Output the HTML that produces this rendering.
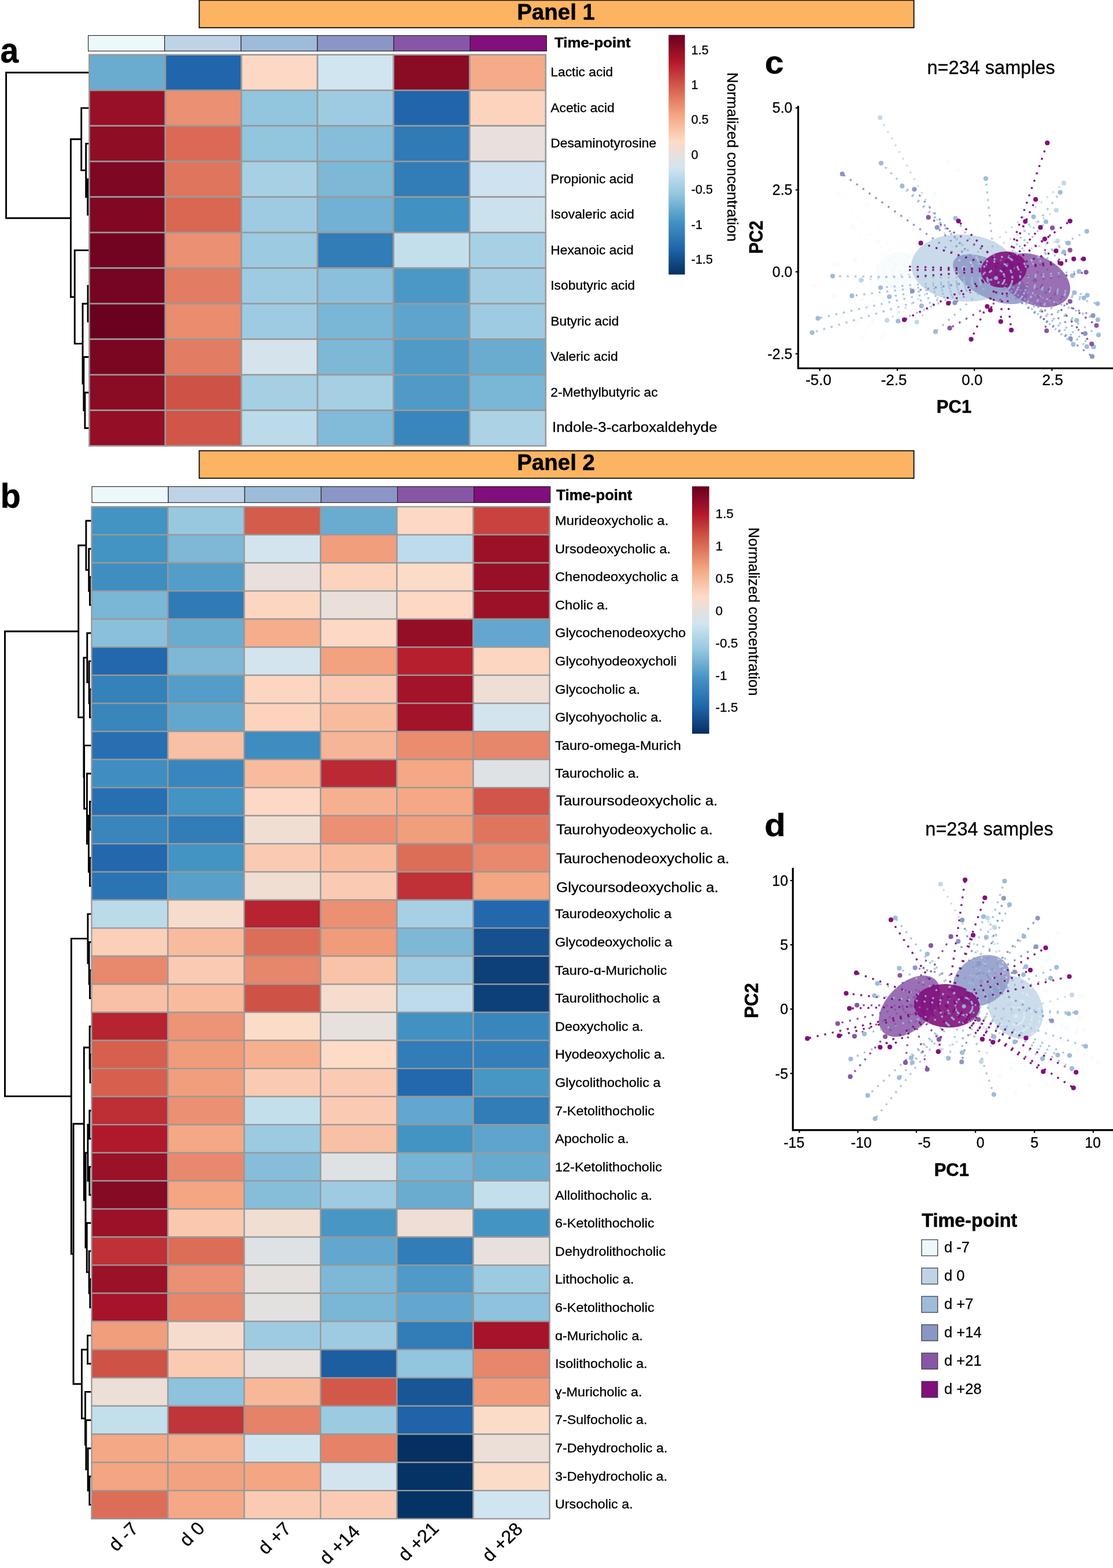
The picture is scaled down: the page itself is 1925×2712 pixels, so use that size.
<!DOCTYPE html>
<html lang="en"><head><meta charset="utf-8"><title>Figure</title>
<style>html,body{margin:0;padding:0;background:#fff}body{width:1925px;height:2712px;overflow:hidden}svg{display:block}text{stroke:#000;stroke-width:.3px;stroke-linejoin:round}text[font-weight=bold]{stroke-width:.5px}</style>
</head><body>
<svg width="1925" height="2712" viewBox="0 0 1925 2712" font-family='"Liberation Sans", sans-serif' fill="#000" role="img" aria-label="Figure: heatmaps and PCA plots">
<rect width="1925" height="2712" fill="#fff"/>
<rect x="344.6" y="0.4" width="1236.0" height="47.5" fill="#FDB462" stroke="#1a1a1a" stroke-width="2"/>
<text transform="translate(961.60 33.60)" font-size="38.50" font-weight="bold" text-anchor="middle">Panel 1</text>
<text transform="translate(0.50 108.00) scale(0.9300 1.0000)" font-size="61.00" font-weight="bold">a</text>
<rect x="152.60" y="61.40" width="132.13" height="26.90" fill="#EDF8FB" stroke="#1f1f1f" stroke-width="1.1"/>
<rect x="284.73" y="61.40" width="132.13" height="26.90" fill="#BFD3E6" stroke="#1f1f1f" stroke-width="1.1"/>
<rect x="416.87" y="61.40" width="132.13" height="26.90" fill="#9EBCDA" stroke="#1f1f1f" stroke-width="1.1"/>
<rect x="549.00" y="61.40" width="132.13" height="26.90" fill="#8C96C6" stroke="#1f1f1f" stroke-width="1.1"/>
<rect x="681.13" y="61.40" width="132.13" height="26.90" fill="#8856A7" stroke="#1f1f1f" stroke-width="1.1"/>
<rect x="813.27" y="61.40" width="132.13" height="26.90" fill="#810F7C" stroke="#1f1f1f" stroke-width="1.1"/>
<text transform="translate(959.00 82.00) scale(1.0550 1.0000)" font-size="24.50" font-weight="bold">Time-point</text>
<path d="M154.4 309.9H151.6V371.4H154.4M154.4 248.4H148.7V340.7H151.6M154.4 186.9H140.7V294.6H148.7M154.4 494.4H152.0V556.0H154.4M154.4 679.0H146.9V740.5H154.4M154.4 617.5H144.8V709.7H146.9M152.0 525.2H143.0V663.6H144.8M154.4 432.9H129.2V594.4H143.0M140.7 240.8H122.4V513.7H129.2M154.4 125.5H10.6V377.2H122.4" fill="none" stroke="#000" stroke-width="2.9" stroke-linejoin="miter" stroke-linecap="square"/>
<g stroke="#999999" stroke-width="2.6">
<rect x="154.40" y="94.70" width="131.57" height="61.50" fill="#6AACD0"/>
<rect x="285.97" y="94.70" width="131.57" height="61.50" fill="#2166AC"/>
<rect x="417.53" y="94.70" width="131.57" height="61.50" fill="#FDD8C4"/>
<rect x="549.10" y="94.70" width="131.57" height="61.50" fill="#D1E5F0"/>
<rect x="680.67" y="94.70" width="131.57" height="61.50" fill="#890B24"/>
<rect x="812.23" y="94.70" width="131.57" height="61.50" fill="#F5AA89"/>
<rect x="154.40" y="156.20" width="131.57" height="61.50" fill="#981027"/>
<rect x="285.97" y="156.20" width="131.57" height="61.50" fill="#EB9072"/>
<rect x="417.53" y="156.20" width="131.57" height="61.50" fill="#92C5DE"/>
<rect x="549.10" y="156.20" width="131.57" height="61.50" fill="#9FCBE2"/>
<rect x="680.67" y="156.20" width="131.57" height="61.50" fill="#2166AC"/>
<rect x="812.23" y="156.20" width="131.57" height="61.50" fill="#FCD3BD"/>
<rect x="154.40" y="217.70" width="131.57" height="61.50" fill="#900D26"/>
<rect x="285.97" y="217.70" width="131.57" height="61.50" fill="#DA6A55"/>
<rect x="417.53" y="217.70" width="131.57" height="61.50" fill="#92C5DE"/>
<rect x="549.10" y="217.70" width="131.57" height="61.50" fill="#86BEDA"/>
<rect x="680.67" y="217.70" width="131.57" height="61.50" fill="#307AB6"/>
<rect x="812.23" y="217.70" width="131.57" height="61.50" fill="#E7E0DC"/>
<rect x="154.40" y="279.20" width="131.57" height="61.50" fill="#7E0723"/>
<rect x="285.97" y="279.20" width="131.57" height="61.50" fill="#DF755D"/>
<rect x="417.53" y="279.20" width="131.57" height="61.50" fill="#A8D0E4"/>
<rect x="549.10" y="279.20" width="131.57" height="61.50" fill="#7EB8D7"/>
<rect x="680.67" y="279.20" width="131.57" height="61.50" fill="#327CB8"/>
<rect x="812.23" y="279.20" width="131.57" height="61.50" fill="#CEE3EF"/>
<rect x="154.40" y="340.70" width="131.57" height="61.50" fill="#810823"/>
<rect x="285.97" y="340.70" width="131.57" height="61.50" fill="#D96752"/>
<rect x="417.53" y="340.70" width="131.57" height="61.50" fill="#9FCBE2"/>
<rect x="549.10" y="340.70" width="131.57" height="61.50" fill="#72B1D3"/>
<rect x="680.67" y="340.70" width="131.57" height="61.50" fill="#4191C2"/>
<rect x="812.23" y="340.70" width="131.57" height="61.50" fill="#CBE2EE"/>
<rect x="154.40" y="402.20" width="131.57" height="61.50" fill="#720421"/>
<rect x="285.97" y="402.20" width="131.57" height="61.50" fill="#EB9072"/>
<rect x="417.53" y="402.20" width="131.57" height="61.50" fill="#9BCAE1"/>
<rect x="549.10" y="402.20" width="131.57" height="61.50" fill="#327CB8"/>
<rect x="680.67" y="402.20" width="131.57" height="61.50" fill="#C4DFEC"/>
<rect x="812.23" y="402.20" width="131.57" height="61.50" fill="#A8D0E4"/>
<rect x="154.40" y="463.70" width="131.57" height="61.50" fill="#760521"/>
<rect x="285.97" y="463.70" width="131.57" height="61.50" fill="#E27C62"/>
<rect x="417.53" y="463.70" width="131.57" height="61.50" fill="#9FCBE2"/>
<rect x="549.10" y="463.70" width="131.57" height="61.50" fill="#8AC0DB"/>
<rect x="680.67" y="463.70" width="131.57" height="61.50" fill="#4B98C6"/>
<rect x="812.23" y="463.70" width="131.57" height="61.50" fill="#A2CDE2"/>
<rect x="154.40" y="525.20" width="131.57" height="61.50" fill="#69011F"/>
<rect x="285.97" y="525.20" width="131.57" height="61.50" fill="#EA8D6F"/>
<rect x="417.53" y="525.20" width="131.57" height="61.50" fill="#9FCBE2"/>
<rect x="549.10" y="525.20" width="131.57" height="61.50" fill="#7AB6D6"/>
<rect x="680.67" y="525.20" width="131.57" height="61.50" fill="#5FA4CC"/>
<rect x="812.23" y="525.20" width="131.57" height="61.50" fill="#9FCBE2"/>
<rect x="154.40" y="586.70" width="131.57" height="61.50" fill="#7A0622"/>
<rect x="285.97" y="586.70" width="131.57" height="61.50" fill="#E27C62"/>
<rect x="417.53" y="586.70" width="131.57" height="61.50" fill="#D5E4EC"/>
<rect x="549.10" y="586.70" width="131.57" height="61.50" fill="#7EB8D7"/>
<rect x="680.67" y="586.70" width="131.57" height="61.50" fill="#4F9AC7"/>
<rect x="812.23" y="586.70" width="131.57" height="61.50" fill="#6AACD0"/>
<rect x="154.40" y="648.20" width="131.57" height="61.50" fill="#890B24"/>
<rect x="285.97" y="648.20" width="131.57" height="61.50" fill="#CF5246"/>
<rect x="417.53" y="648.20" width="131.57" height="61.50" fill="#A5CFE3"/>
<rect x="549.10" y="648.20" width="131.57" height="61.50" fill="#A5CFE3"/>
<rect x="680.67" y="648.20" width="131.57" height="61.50" fill="#4F9AC7"/>
<rect x="812.23" y="648.20" width="131.57" height="61.50" fill="#7AB6D6"/>
<rect x="154.40" y="709.70" width="131.57" height="61.50" fill="#940E26"/>
<rect x="285.97" y="709.70" width="131.57" height="61.50" fill="#D15548"/>
<rect x="417.53" y="709.70" width="131.57" height="61.50" fill="#BBDAEA"/>
<rect x="549.10" y="709.70" width="131.57" height="61.50" fill="#82BBD9"/>
<rect x="680.67" y="709.70" width="131.57" height="61.50" fill="#3986BC"/>
<rect x="812.23" y="709.70" width="131.57" height="61.50" fill="#ABD2E5"/>
</g>
<text transform="translate(952.20 132.05) scale(1.0450 1.0000)" font-size="21.90">Lactic acid</text>
<text transform="translate(952.20 193.55) scale(1.0450 1.0000)" font-size="21.90">Acetic acid</text>
<text transform="translate(952.20 255.05) scale(1.0450 1.0000)" font-size="21.90">Desaminotyrosine</text>
<text transform="translate(952.20 316.55) scale(1.0450 1.0000)" font-size="21.90">Propionic acid</text>
<text transform="translate(952.20 378.05) scale(1.0450 1.0000)" font-size="21.90">Isovaleric acid</text>
<text transform="translate(952.20 439.55) scale(1.0450 1.0000)" font-size="21.90">Hexanoic acid</text>
<text transform="translate(952.20 501.05) scale(1.0450 1.0000)" font-size="21.90">Isobutyric acid</text>
<text transform="translate(952.20 562.55) scale(1.0450 1.0000)" font-size="21.90">Butyric acid</text>
<text transform="translate(952.20 624.05) scale(1.0450 1.0000)" font-size="21.90">Valeric acid</text>
<text transform="translate(952.20 685.55) scale(1.0450 1.0000)" font-size="21.90">2-Methylbutyric ac</text>
<text transform="translate(955.00 747.00) scale(1.0540 1.0000)" font-size="24.60">Indole-3-carboxaldehyde</text>
<defs><linearGradient id="cbA" x1="0" y1="1" x2="0" y2="0">
<stop offset="0.0000" stop-color="#053061"/>
<stop offset="0.1111" stop-color="#2166AC"/>
<stop offset="0.2222" stop-color="#4393C3"/>
<stop offset="0.3333" stop-color="#92C5DE"/>
<stop offset="0.4444" stop-color="#D1E5F0"/>
<stop offset="0.5556" stop-color="#FDDBC7"/>
<stop offset="0.6667" stop-color="#F4A582"/>
<stop offset="0.7778" stop-color="#D6604D"/>
<stop offset="0.8889" stop-color="#B2182B"/>
<stop offset="1.0000" stop-color="#67001F"/>
</linearGradient></defs>
<rect x="1156.4" y="60.4" width="28.2" height="414.4" fill="url(#cbA)"/>
<text transform="translate(1195.50 93.60) scale(0.9650 1.0000)" font-size="22.50">1.5</text>
<text transform="translate(1195.50 154.00) scale(0.9650 1.0000)" font-size="22.50">1</text>
<text transform="translate(1195.50 214.40) scale(0.9650 1.0000)" font-size="22.50">0.5</text>
<text transform="translate(1195.50 274.80) scale(0.9650 1.0000)" font-size="22.50">0</text>
<text transform="translate(1195.50 335.30) scale(0.9650 1.0000)" font-size="22.50">-0.5</text>
<text transform="translate(1195.50 395.70) scale(0.9650 1.0000)" font-size="22.50">-1</text>
<text transform="translate(1195.50 456.30) scale(0.9650 1.0000)" font-size="22.50">-1.5</text>
<text transform="translate(1257.6 125.3) rotate(90) scale(1 1.0000)" font-size="25.80">Normalized concentration</text>
<text transform="translate(1322.80 127.30) scale(1.0700 1.0000)" font-size="55.00" font-weight="bold">c</text>
<text transform="translate(1603.50 127.50)" font-size="32.50">n=234 samples</text>
<g>
<ellipse cx="1558.0" cy="470.0" rx="42.0" ry="34.0" transform="rotate(0 1558.0 470.0)" fill="#EDF8FB" fill-opacity="0.40"/>
<ellipse cx="1667.0" cy="463.5" rx="91.0" ry="58.0" transform="rotate(4 1667.0 463.5)" fill="#BFD3E6" fill-opacity="0.85"/>
<ellipse cx="1713.0" cy="483.0" rx="71.0" ry="32.0" transform="rotate(27 1713.0 483.0)" fill="#8C96C6" fill-opacity="0.85"/>
<ellipse cx="1790.3" cy="484.7" rx="64.0" ry="42.0" transform="rotate(25 1790.3 484.7)" fill="#8856A7" fill-opacity="0.85"/>
<ellipse cx="1736.2" cy="466.2" rx="40.0" ry="31.0" transform="rotate(-10 1736.2 466.2)" fill="#810F7C" fill-opacity="0.90"/>
<path d="M1558.0 470.0L1450.8 333.4M1558.0 470.0L1499.6 354.5M1558.0 470.0L1473.8 391.4M1558.0 470.0L1444.0 456.9M1558.0 470.0L1406.3 494.7M1558.0 470.0L1443.2 511.4M1558.0 470.0L1639.8 279.8M1558.0 470.0L1655.3 294.9M1558.0 470.0L1615.6 337.4M1558.0 470.0L1492.5 582.8M1558.0 470.0L1526.2 582.8M1558.0 470.0L1564.0 568.1M1558.0 470.0L1508.4 557.0M1558.0 470.0L1482.6 557.0M1558.0 470.0L1518.3 418.0M1558.0 470.0L1478.6 449.8M1558.0 470.0L1502.4 529.2M1558.0 470.0L1454.8 545.1M1558.0 470.0L1550.1 489.5M1558.0 470.0L1526.2 517.3" fill="none" stroke="#EDF8FB" stroke-width="3.3" stroke-dasharray="3.3 10.1" stroke-opacity="0.50"/>
<path d="M1667.0 463.5L1522.3 203.5M1667.0 463.5L1840.0 316.7M1667.0 463.5L1826.9 363.6M1667.0 463.5L1828.9 416.8M1667.0 463.5L1489.3 484.7M1667.0 463.5L1534.2 554.2M1667.0 463.5L1585.8 557.0" fill="none" stroke="#BFD3E6" stroke-width="3.3" stroke-dasharray="3.3 10.1" stroke-opacity="0.80"/>
<path d="M1722.6 481.0L1523.9 282.2M1722.6 481.0L1560.4 321.9M1722.6 481.0L1705.0 308.8M1722.6 481.0L1833.7 332.6M1722.6 481.0L1787.6 375.1M1722.6 481.0L1809.0 383.5M1722.6 481.0L1879.7 400.1M1722.6 481.0L1652.5 377.5M1722.6 481.0L1847.9 420.4M1722.6 481.0L1840.0 435.9M1722.6 481.0L1866.2 469.6M1722.6 481.0L1854.7 476.8M1722.6 481.0L1440.1 477.6M1722.6 481.0L1523.1 497.5M1722.6 481.0L1473.4 511.7M1722.6 481.0L1538.2 513.3M1722.6 481.0L1593.8 529.2M1722.6 481.0L1618.0 573.7M1722.6 481.0L1553.3 555.4M1722.6 481.0L1414.6 550.7M1722.6 481.0L1404.7 575.3M1722.6 481.0L1858.3 506.2M1722.6 481.0L1874.6 515.3M1722.6 481.0L1880.5 510.6M1722.6 481.0L1898.4 525.3M1722.6 481.0L1898.8 553.1M1722.6 481.0L1862.2 554.2M1722.6 481.0L1900.0 579.3M1722.6 481.0L1856.3 595.6M1722.6 481.0L1879.7 599.5M1722.6 481.0L1891.6 599.9" fill="none" stroke="#9EBCDA" stroke-width="3.3" stroke-dasharray="3.3 10.1" stroke-opacity="0.88"/>
<path d="M1713.0 483.0L1456.7 300.9M1713.0 483.0L1581.5 327.5M1713.0 483.0L1620.8 393.4M1713.0 483.0L1577.9 503.4M1713.0 483.0L1651.4 523.7M1713.0 483.0L1890.4 545.9M1713.0 483.0L1876.9 576.9M1713.0 483.0L1851.5 585.6M1713.0 483.0L1888.9 616.6" fill="none" stroke="#8C96C6" stroke-width="3.3" stroke-dasharray="3.3 10.1" stroke-opacity="1.00"/>
<path d="M1790.0 485.0L1820.1 394.2M1790.0 485.0L1605.7 375.9M1790.0 485.0L1850.7 432.7M1790.0 485.0L1878.5 470.8M1790.0 485.0L1642.6 567.4M1790.0 485.0L1810.2 572.1M1790.0 485.0L1850.7 521.3M1790.0 485.0L1896.4 563.0M1790.0 485.0L1888.1 594.8" fill="none" stroke="#8856A7" stroke-width="3.3" stroke-dasharray="3.3 10.1" stroke-opacity="1.00"/>
<path d="M1736.2 466.2L1811.4 247.2M1736.2 466.2L1791.2 344.9M1736.2 466.2L1773.3 383.1M1736.2 466.2L1799.5 393.4M1736.2 466.2L1850.7 382.3M1736.2 466.2L1657.7 382.3M1736.2 466.2L1592.6 420.4M1736.2 466.2L1807.0 413.3M1736.2 466.2L1826.5 433.9M1736.2 466.2L1857.1 447.8M1736.2 466.2L1874.2 447.8M1736.2 466.2L1835.2 455.7M1736.2 466.2L1640.2 524.5M1736.2 466.2L1707.4 530.0M1736.2 466.2L1712.9 536.4M1736.2 466.2L1730.8 556.2M1736.2 466.2L1749.1 570.9M1736.2 466.2L1679.6 586.8M1736.2 466.2L1564.0 553.1M1736.2 466.2L1565.0 461.0M1736.2 466.2L1570.0 467.0M1736.2 466.2L1577.0 479.0" fill="none" stroke="#810F7C" stroke-width="3.3" stroke-dasharray="3.3 10.1" stroke-opacity="1.00"/>
<g fill="#EDF8FB" fill-opacity="0.45"><circle cx="1450.8" cy="333.4" r="4.1"/><circle cx="1499.6" cy="354.5" r="4.1"/><circle cx="1473.8" cy="391.4" r="4.1"/><circle cx="1444.0" cy="456.9" r="4.1"/><circle cx="1406.3" cy="494.7" r="4.1"/><circle cx="1443.2" cy="511.4" r="4.1"/><circle cx="1639.8" cy="279.8" r="4.1"/><circle cx="1655.3" cy="294.9" r="4.1"/><circle cx="1615.6" cy="337.4" r="4.1"/><circle cx="1492.5" cy="582.8" r="4.1"/><circle cx="1526.2" cy="582.8" r="4.1"/><circle cx="1564.0" cy="568.1" r="4.1"/><circle cx="1508.4" cy="557.0" r="4.1"/><circle cx="1482.6" cy="557.0" r="4.1"/><circle cx="1518.3" cy="418.0" r="4.1"/><circle cx="1478.6" cy="449.8" r="4.1"/><circle cx="1502.4" cy="529.2" r="4.1"/><circle cx="1454.8" cy="545.1" r="4.1"/><circle cx="1550.1" cy="489.5" r="4.1"/><circle cx="1526.2" cy="517.3" r="4.1"/></g>
<g fill="#BFD3E6" fill-opacity="0.90"><circle cx="1522.3" cy="203.5" r="4.1"/><circle cx="1840.0" cy="316.7" r="4.1"/><circle cx="1826.9" cy="363.6" r="4.1"/><circle cx="1828.9" cy="416.8" r="4.1"/><circle cx="1489.3" cy="484.7" r="4.1"/><circle cx="1534.2" cy="554.2" r="4.1"/><circle cx="1585.8" cy="557.0" r="4.1"/></g>
<g fill="#9EBCDA" fill-opacity="1.00"><circle cx="1523.9" cy="282.2" r="4.1"/><circle cx="1560.4" cy="321.9" r="4.1"/><circle cx="1705.0" cy="308.8" r="4.1"/><circle cx="1833.7" cy="332.6" r="4.1"/><circle cx="1787.6" cy="375.1" r="4.1"/><circle cx="1809.0" cy="383.5" r="4.1"/><circle cx="1879.7" cy="400.1" r="4.1"/><circle cx="1652.5" cy="377.5" r="4.1"/><circle cx="1847.9" cy="420.4" r="4.1"/><circle cx="1840.0" cy="435.9" r="4.1"/><circle cx="1866.2" cy="469.6" r="4.1"/><circle cx="1854.7" cy="476.8" r="4.1"/><circle cx="1440.1" cy="477.6" r="4.1"/><circle cx="1523.1" cy="497.5" r="4.1"/><circle cx="1473.4" cy="511.7" r="4.1"/><circle cx="1538.2" cy="513.3" r="4.1"/><circle cx="1593.8" cy="529.2" r="4.1"/><circle cx="1618.0" cy="573.7" r="4.1"/><circle cx="1553.3" cy="555.4" r="4.1"/><circle cx="1414.6" cy="550.7" r="4.1"/><circle cx="1404.7" cy="575.3" r="4.1"/><circle cx="1858.3" cy="506.2" r="4.1"/><circle cx="1874.6" cy="515.3" r="4.1"/><circle cx="1880.5" cy="510.6" r="4.1"/><circle cx="1898.4" cy="525.3" r="4.1"/><circle cx="1898.8" cy="553.1" r="4.1"/><circle cx="1862.2" cy="554.2" r="4.1"/><circle cx="1900.0" cy="579.3" r="4.1"/><circle cx="1856.3" cy="595.6" r="4.1"/><circle cx="1879.7" cy="599.5" r="4.1"/><circle cx="1891.6" cy="599.9" r="4.1"/></g>
<g fill="#8C96C6" fill-opacity="1.00"><circle cx="1456.7" cy="300.9" r="4.1"/><circle cx="1581.5" cy="327.5" r="4.1"/><circle cx="1620.8" cy="393.4" r="4.1"/><circle cx="1577.9" cy="503.4" r="4.1"/><circle cx="1651.4" cy="523.7" r="4.1"/><circle cx="1890.4" cy="545.9" r="4.1"/><circle cx="1876.9" cy="576.9" r="4.1"/><circle cx="1851.5" cy="585.6" r="4.1"/><circle cx="1888.9" cy="616.6" r="4.1"/></g>
<g fill="#8856A7" fill-opacity="1.00"><circle cx="1820.1" cy="394.2" r="4.1"/><circle cx="1605.7" cy="375.9" r="4.1"/><circle cx="1850.7" cy="432.7" r="4.1"/><circle cx="1878.5" cy="470.8" r="4.1"/><circle cx="1642.6" cy="567.4" r="4.1"/><circle cx="1810.2" cy="572.1" r="4.1"/><circle cx="1850.7" cy="521.3" r="4.1"/><circle cx="1896.4" cy="563.0" r="4.1"/><circle cx="1888.1" cy="594.8" r="4.1"/></g>
<g fill="#810F7C" fill-opacity="1.00"><circle cx="1811.4" cy="247.2" r="4.1"/><circle cx="1791.2" cy="344.9" r="4.1"/><circle cx="1773.3" cy="383.1" r="4.1"/><circle cx="1799.5" cy="393.4" r="4.1"/><circle cx="1850.7" cy="382.3" r="4.1"/><circle cx="1657.7" cy="382.3" r="4.1"/><circle cx="1592.6" cy="420.4" r="4.1"/><circle cx="1807.0" cy="413.3" r="4.1"/><circle cx="1826.5" cy="433.9" r="4.1"/><circle cx="1857.1" cy="447.8" r="4.1"/><circle cx="1874.2" cy="447.8" r="4.1"/><circle cx="1835.2" cy="455.7" r="4.1"/><circle cx="1640.2" cy="524.5" r="4.1"/><circle cx="1707.4" cy="530.0" r="4.1"/><circle cx="1712.9" cy="536.4" r="4.1"/><circle cx="1730.8" cy="556.2" r="4.1"/><circle cx="1749.1" cy="570.9" r="4.1"/><circle cx="1679.6" cy="586.8" r="4.1"/><circle cx="1564.0" cy="553.1" r="4.1"/></g>
</g>
<path d="M1380.5 184.7V637.0H1930" fill="none" stroke="#000" stroke-width="3.2" stroke-linecap="square"/>
<text transform="translate(1370.50 195.40)" font-size="25.00" text-anchor="end">5.0</text>
<text transform="translate(1370.50 337.30)" font-size="25.00" text-anchor="end">2.5</text>
<text transform="translate(1370.50 479.00)" font-size="25.00" text-anchor="end">0.0</text>
<text transform="translate(1370.50 620.70)" font-size="25.00" text-anchor="end">-2.5</text>
<text transform="translate(1415.60 665.60)" font-size="26.00" text-anchor="middle">-5.0</text>
<text transform="translate(1546.10 665.60)" font-size="26.00" text-anchor="middle">-2.5</text>
<text transform="translate(1681.30 665.60)" font-size="26.00" text-anchor="middle">0.0</text>
<text transform="translate(1820.70 665.60)" font-size="26.00" text-anchor="middle">2.5</text>
<path d="M1380.5 186.6h-4.6M1380.5 328.5h-4.6M1380.5 470.2h-4.6M1380.5 611.9h-4.6M1417.8 637.0v4.6M1552.0 637.0v4.6M1685.2 637.0v4.6M1819.4 637.0v4.6" stroke="#000" stroke-width="2.2" fill="none"/>
<text transform="translate(1650.00 714.20)" font-size="31.00" font-weight="bold" text-anchor="middle">PC1</text>
<text transform="translate(1318.70 410.30) rotate(-90) scale(1.0000 1.1400)" font-size="29.50" font-weight="bold" text-anchor="middle">PC2</text>
<rect x="344.6" y="779.6" width="1236.0" height="47.6" fill="#FDB462" stroke="#1a1a1a" stroke-width="2"/>
<text transform="translate(961.60 813.00)" font-size="38.50" font-weight="bold" text-anchor="middle">Panel 2</text>
<text transform="translate(0.80 878.20) scale(0.9800 1.0000)" font-size="58.50" font-weight="bold">b</text>
<rect x="159.00" y="841.60" width="132.13" height="27.70" fill="#EDF8FB" stroke="#1f1f1f" stroke-width="1.1"/>
<rect x="291.13" y="841.60" width="132.13" height="27.70" fill="#BFD3E6" stroke="#1f1f1f" stroke-width="1.1"/>
<rect x="423.27" y="841.60" width="132.13" height="27.70" fill="#9EBCDA" stroke="#1f1f1f" stroke-width="1.1"/>
<rect x="555.40" y="841.60" width="132.13" height="27.70" fill="#8C96C6" stroke="#1f1f1f" stroke-width="1.1"/>
<rect x="687.53" y="841.60" width="132.13" height="27.70" fill="#8856A7" stroke="#1f1f1f" stroke-width="1.1"/>
<rect x="819.67" y="841.60" width="132.13" height="27.70" fill="#810F7C" stroke="#1f1f1f" stroke-width="1.1"/>
<text transform="translate(962.30 864.70) scale(1.0050 1.0000)" font-size="25.60" font-weight="bold">Time-point</text>
<path d="M158.4 997.9H155.4V1046.4H158.4M158.4 949.3H153.7V1022.2H155.4M158.4 900.7H148.9V985.7H153.7M158.4 1192.2H155.4V1240.8H158.4M158.4 1143.6H154.1V1216.5H155.4M158.4 1095.0H150.8V1180.1H154.1M158.4 1386.5H155.4V1435.1H158.4M158.4 1483.7H155.4V1532.3H158.4M155.4 1410.8H153.4V1508.0H155.4M158.4 1338.0H150.4V1459.4H153.4M158.4 1289.4H145.6V1398.7H150.4M150.8 1137.5H144.9V1344.0H145.6M148.9 943.2H135.7V1240.8H144.9M158.4 1678.1H155.4V1726.6H158.4M158.4 1629.5H154.1V1702.3H155.4M158.4 1580.9H151.9V1665.9H154.1M158.4 1823.8H156.0V1872.4H158.4M158.4 1775.2H155.1V1848.1H156.0M158.4 1921.0H154.8V1969.6H158.4M158.4 2018.1H154.8V2066.7H158.4M154.8 1945.3H151.9V2042.4H154.8M158.4 2212.5H155.8V2261.2H158.4M158.4 2163.9H154.1V2236.8H155.8M158.4 2115.3H150.2V2200.4H154.1M151.9 1993.9H148.0V2157.8H150.2M155.1 1811.7H145.3V2075.8H148.0M158.4 2309.9H151.5V2358.7H158.4M158.4 2553.7H154.8V2602.5H158.4M158.4 2505.0H152.1V2578.1H154.8M158.4 2456.2H148.9V2541.5H152.1M158.4 2407.4H147.5V2498.9H148.9M151.5 2334.3H141.4V2453.2H147.5M145.3 1943.8H127.0V2393.7H141.4M151.9 1623.4H123.3V2168.7H127.0M135.7 1092.0H8.5V1896.1H123.3" fill="none" stroke="#000" stroke-width="2.9" stroke-linejoin="miter" stroke-linecap="square"/>
<g stroke="#999999" stroke-width="2.3">
<rect x="158.40" y="876.40" width="132.03" height="48.59" fill="#4393C3"/>
<rect x="290.43" y="876.40" width="132.03" height="48.59" fill="#98C8E0"/>
<rect x="422.47" y="876.40" width="132.03" height="48.59" fill="#D45C4B"/>
<rect x="554.50" y="876.40" width="132.03" height="48.59" fill="#6AACD0"/>
<rect x="686.53" y="876.40" width="132.03" height="48.59" fill="#FDD8C4"/>
<rect x="818.57" y="876.40" width="132.03" height="48.59" fill="#C8433F"/>
<rect x="158.40" y="924.99" width="132.03" height="48.58" fill="#4393C3"/>
<rect x="290.43" y="924.99" width="132.03" height="48.58" fill="#7EB8D7"/>
<rect x="422.47" y="924.99" width="132.03" height="48.58" fill="#D3E4EE"/>
<rect x="554.50" y="924.99" width="132.03" height="48.58" fill="#F19E7D"/>
<rect x="686.53" y="924.99" width="132.03" height="48.58" fill="#BEDBEB"/>
<rect x="818.57" y="924.99" width="132.03" height="48.58" fill="#9B1127"/>
<rect x="158.40" y="973.57" width="132.03" height="48.59" fill="#408EC1"/>
<rect x="290.43" y="973.57" width="132.03" height="48.59" fill="#539DC8"/>
<rect x="422.47" y="973.57" width="132.03" height="48.59" fill="#E7E0DC"/>
<rect x="554.50" y="973.57" width="132.03" height="48.59" fill="#FCD3BD"/>
<rect x="686.53" y="973.57" width="132.03" height="48.59" fill="#FBDCC9"/>
<rect x="818.57" y="973.57" width="132.03" height="48.59" fill="#981027"/>
<rect x="158.40" y="1022.15" width="132.03" height="48.59" fill="#7AB6D6"/>
<rect x="290.43" y="1022.15" width="132.03" height="48.59" fill="#307AB6"/>
<rect x="422.47" y="1022.15" width="132.03" height="48.59" fill="#FCD6C0"/>
<rect x="554.50" y="1022.15" width="132.03" height="48.59" fill="#E9E0D9"/>
<rect x="686.53" y="1022.15" width="132.03" height="48.59" fill="#FDD8C4"/>
<rect x="818.57" y="1022.15" width="132.03" height="48.59" fill="#9B1127"/>
<rect x="158.40" y="1070.74" width="132.03" height="48.59" fill="#8AC0DB"/>
<rect x="290.43" y="1070.74" width="132.03" height="48.59" fill="#6AACD0"/>
<rect x="422.47" y="1070.74" width="132.03" height="48.59" fill="#F5AD8C"/>
<rect x="554.50" y="1070.74" width="132.03" height="48.59" fill="#FDD8C4"/>
<rect x="686.53" y="1070.74" width="132.03" height="48.59" fill="#940E26"/>
<rect x="818.57" y="1070.74" width="132.03" height="48.59" fill="#63A7CE"/>
<rect x="158.40" y="1119.33" width="132.03" height="48.58" fill="#2368AD"/>
<rect x="290.43" y="1119.33" width="132.03" height="48.58" fill="#7EB8D7"/>
<rect x="422.47" y="1119.33" width="132.03" height="48.58" fill="#D3E4EE"/>
<rect x="554.50" y="1119.33" width="132.03" height="48.58" fill="#F2A27F"/>
<rect x="686.53" y="1119.33" width="132.03" height="48.58" fill="#B61F2E"/>
<rect x="818.57" y="1119.33" width="132.03" height="48.58" fill="#FCD6C0"/>
<rect x="158.40" y="1167.91" width="132.03" height="48.59" fill="#3581BA"/>
<rect x="290.43" y="1167.91" width="132.03" height="48.59" fill="#539DC8"/>
<rect x="422.47" y="1167.91" width="132.03" height="48.59" fill="#FCD6C0"/>
<rect x="554.50" y="1167.91" width="132.03" height="48.59" fill="#FACBB2"/>
<rect x="686.53" y="1167.91" width="132.03" height="48.59" fill="#A31329"/>
<rect x="818.57" y="1167.91" width="132.03" height="48.59" fill="#EEDED5"/>
<rect x="158.40" y="1216.49" width="132.03" height="48.59" fill="#3986BC"/>
<rect x="290.43" y="1216.49" width="132.03" height="48.59" fill="#63A7CE"/>
<rect x="422.47" y="1216.49" width="132.03" height="48.59" fill="#FCD3BD"/>
<rect x="554.50" y="1216.49" width="132.03" height="48.59" fill="#F8BB9E"/>
<rect x="686.53" y="1216.49" width="132.03" height="48.59" fill="#A31329"/>
<rect x="818.57" y="1216.49" width="132.03" height="48.59" fill="#D3E4EE"/>
<rect x="158.40" y="1265.08" width="132.03" height="48.59" fill="#286FB1"/>
<rect x="290.43" y="1265.08" width="132.03" height="48.59" fill="#F8C0A4"/>
<rect x="422.47" y="1265.08" width="132.03" height="48.59" fill="#3E8CC0"/>
<rect x="554.50" y="1265.08" width="132.03" height="48.59" fill="#F7B597"/>
<rect x="686.53" y="1265.08" width="132.03" height="48.59" fill="#EA8D6F"/>
<rect x="818.57" y="1265.08" width="132.03" height="48.59" fill="#E6866A"/>
<rect x="158.40" y="1313.66" width="132.03" height="48.59" fill="#408EC1"/>
<rect x="290.43" y="1313.66" width="132.03" height="48.59" fill="#3986BC"/>
<rect x="422.47" y="1313.66" width="132.03" height="48.59" fill="#F8BB9E"/>
<rect x="554.50" y="1313.66" width="132.03" height="48.59" fill="#BB2A34"/>
<rect x="686.53" y="1313.66" width="132.03" height="48.59" fill="#F4A885"/>
<rect x="818.57" y="1313.66" width="132.03" height="48.59" fill="#DEE2E4"/>
<rect x="158.40" y="1362.25" width="132.03" height="48.59" fill="#286FB1"/>
<rect x="290.43" y="1362.25" width="132.03" height="48.59" fill="#4393C3"/>
<rect x="422.47" y="1362.25" width="132.03" height="48.59" fill="#FDD8C4"/>
<rect x="554.50" y="1362.25" width="132.03" height="48.59" fill="#F6B090"/>
<rect x="686.53" y="1362.25" width="132.03" height="48.59" fill="#F4A885"/>
<rect x="818.57" y="1362.25" width="132.03" height="48.59" fill="#D15548"/>
<rect x="158.40" y="1410.84" width="132.03" height="48.59" fill="#3986BC"/>
<rect x="290.43" y="1410.84" width="132.03" height="48.59" fill="#327CB8"/>
<rect x="422.47" y="1410.84" width="132.03" height="48.59" fill="#F0DED3"/>
<rect x="554.50" y="1410.84" width="132.03" height="48.59" fill="#EB9072"/>
<rect x="686.53" y="1410.84" width="132.03" height="48.59" fill="#F19E7D"/>
<rect x="818.57" y="1410.84" width="132.03" height="48.59" fill="#DF755D"/>
<rect x="158.40" y="1459.42" width="132.03" height="48.59" fill="#2368AD"/>
<rect x="290.43" y="1459.42" width="132.03" height="48.59" fill="#4393C3"/>
<rect x="422.47" y="1459.42" width="132.03" height="48.59" fill="#FACBB2"/>
<rect x="554.50" y="1459.42" width="132.03" height="48.59" fill="#F8BB9E"/>
<rect x="686.53" y="1459.42" width="132.03" height="48.59" fill="#DC6E58"/>
<rect x="818.57" y="1459.42" width="132.03" height="48.59" fill="#E8896D"/>
<rect x="158.40" y="1508.01" width="132.03" height="48.59" fill="#2B74B3"/>
<rect x="290.43" y="1508.01" width="132.03" height="48.59" fill="#57A0CA"/>
<rect x="422.47" y="1508.01" width="132.03" height="48.59" fill="#F0DED3"/>
<rect x="554.50" y="1508.01" width="132.03" height="48.59" fill="#FACBB2"/>
<rect x="686.53" y="1508.01" width="132.03" height="48.59" fill="#BF3137"/>
<rect x="818.57" y="1508.01" width="132.03" height="48.59" fill="#F4A582"/>
<rect x="158.40" y="1556.59" width="132.03" height="48.58" fill="#BBDAEA"/>
<rect x="290.43" y="1556.59" width="132.03" height="48.58" fill="#F6DCCD"/>
<rect x="422.47" y="1556.59" width="132.03" height="48.58" fill="#B72330"/>
<rect x="554.50" y="1556.59" width="132.03" height="48.58" fill="#EB9072"/>
<rect x="686.53" y="1556.59" width="132.03" height="48.58" fill="#A8D0E4"/>
<rect x="818.57" y="1556.59" width="132.03" height="48.58" fill="#2368AD"/>
<rect x="158.40" y="1605.17" width="132.03" height="48.59" fill="#FBD0B9"/>
<rect x="290.43" y="1605.17" width="132.03" height="48.59" fill="#F8BB9E"/>
<rect x="422.47" y="1605.17" width="132.03" height="48.59" fill="#DC6E58"/>
<rect x="554.50" y="1605.17" width="132.03" height="48.59" fill="#F09B7A"/>
<rect x="686.53" y="1605.17" width="132.03" height="48.59" fill="#7EB8D7"/>
<rect x="818.57" y="1605.17" width="132.03" height="48.59" fill="#16508E"/>
<rect x="158.40" y="1653.76" width="132.03" height="48.59" fill="#E8896D"/>
<rect x="290.43" y="1653.76" width="132.03" height="48.59" fill="#FACBB2"/>
<rect x="422.47" y="1653.76" width="132.03" height="48.59" fill="#E6866A"/>
<rect x="554.50" y="1653.76" width="132.03" height="48.59" fill="#F9C3A8"/>
<rect x="686.53" y="1653.76" width="132.03" height="48.59" fill="#9FCBE2"/>
<rect x="818.57" y="1653.76" width="132.03" height="48.59" fill="#0D4078"/>
<rect x="158.40" y="1702.35" width="132.03" height="48.58" fill="#F8C0A4"/>
<rect x="290.43" y="1702.35" width="132.03" height="48.58" fill="#F8BB9E"/>
<rect x="422.47" y="1702.35" width="132.03" height="48.58" fill="#CF5246"/>
<rect x="554.50" y="1702.35" width="132.03" height="48.58" fill="#F6DCCD"/>
<rect x="686.53" y="1702.35" width="132.03" height="48.58" fill="#BEDBEB"/>
<rect x="818.57" y="1702.35" width="132.03" height="48.58" fill="#0D4078"/>
<rect x="158.40" y="1750.93" width="132.03" height="48.59" fill="#B72330"/>
<rect x="290.43" y="1750.93" width="132.03" height="48.59" fill="#EC9475"/>
<rect x="422.47" y="1750.93" width="132.03" height="48.59" fill="#FBDCC9"/>
<rect x="554.50" y="1750.93" width="132.03" height="48.59" fill="#E7E0DC"/>
<rect x="686.53" y="1750.93" width="132.03" height="48.59" fill="#4191C2"/>
<rect x="818.57" y="1750.93" width="132.03" height="48.59" fill="#3986BC"/>
<rect x="158.40" y="1799.51" width="132.03" height="48.59" fill="#D6604D"/>
<rect x="290.43" y="1799.51" width="132.03" height="48.59" fill="#F09B7A"/>
<rect x="422.47" y="1799.51" width="132.03" height="48.59" fill="#F6B090"/>
<rect x="554.50" y="1799.51" width="132.03" height="48.59" fill="#FDDBC7"/>
<rect x="686.53" y="1799.51" width="132.03" height="48.59" fill="#327CB8"/>
<rect x="818.57" y="1799.51" width="132.03" height="48.59" fill="#347FB9"/>
<rect x="158.40" y="1848.10" width="132.03" height="48.59" fill="#D6604D"/>
<rect x="290.43" y="1848.10" width="132.03" height="48.59" fill="#F19E7D"/>
<rect x="422.47" y="1848.10" width="132.03" height="48.59" fill="#FACBB2"/>
<rect x="554.50" y="1848.10" width="132.03" height="48.59" fill="#FACBB2"/>
<rect x="686.53" y="1848.10" width="132.03" height="48.59" fill="#2368AD"/>
<rect x="818.57" y="1848.10" width="132.03" height="48.59" fill="#4796C4"/>
<rect x="158.40" y="1896.68" width="132.03" height="48.59" fill="#BD2E35"/>
<rect x="290.43" y="1896.68" width="132.03" height="48.59" fill="#EB9072"/>
<rect x="422.47" y="1896.68" width="132.03" height="48.59" fill="#C4DFEC"/>
<rect x="554.50" y="1896.68" width="132.03" height="48.59" fill="#FACBB2"/>
<rect x="686.53" y="1896.68" width="132.03" height="48.59" fill="#63A7CE"/>
<rect x="818.57" y="1896.68" width="132.03" height="48.59" fill="#327CB8"/>
<rect x="158.40" y="1945.27" width="132.03" height="48.59" fill="#B2182B"/>
<rect x="290.43" y="1945.27" width="132.03" height="48.59" fill="#F4A885"/>
<rect x="422.47" y="1945.27" width="132.03" height="48.59" fill="#9BCAE1"/>
<rect x="554.50" y="1945.27" width="132.03" height="48.59" fill="#F8C0A4"/>
<rect x="686.53" y="1945.27" width="132.03" height="48.59" fill="#4393C3"/>
<rect x="818.57" y="1945.27" width="132.03" height="48.59" fill="#5FA4CC"/>
<rect x="158.40" y="1993.86" width="132.03" height="48.59" fill="#9B1127"/>
<rect x="290.43" y="1993.86" width="132.03" height="48.59" fill="#E8896D"/>
<rect x="422.47" y="1993.86" width="132.03" height="48.59" fill="#86BEDA"/>
<rect x="554.50" y="1993.86" width="132.03" height="48.59" fill="#DEE2E4"/>
<rect x="686.53" y="1993.86" width="132.03" height="48.59" fill="#76B4D5"/>
<rect x="818.57" y="1993.86" width="132.03" height="48.59" fill="#67AACF"/>
<rect x="158.40" y="2042.44" width="132.03" height="48.59" fill="#850A24"/>
<rect x="290.43" y="2042.44" width="132.03" height="48.59" fill="#F4A582"/>
<rect x="422.47" y="2042.44" width="132.03" height="48.59" fill="#86BEDA"/>
<rect x="554.50" y="2042.44" width="132.03" height="48.59" fill="#9FCBE2"/>
<rect x="686.53" y="2042.44" width="132.03" height="48.59" fill="#6AACD0"/>
<rect x="818.57" y="2042.44" width="132.03" height="48.59" fill="#C4DFEC"/>
<rect x="158.40" y="2091.03" width="132.03" height="48.59" fill="#9B1127"/>
<rect x="290.43" y="2091.03" width="132.03" height="48.59" fill="#FAC8AF"/>
<rect x="422.47" y="2091.03" width="132.03" height="48.59" fill="#F0DED3"/>
<rect x="554.50" y="2091.03" width="132.03" height="48.59" fill="#4796C4"/>
<rect x="686.53" y="2091.03" width="132.03" height="48.59" fill="#EEDED5"/>
<rect x="818.57" y="2091.03" width="132.03" height="48.59" fill="#4393C3"/>
<rect x="158.40" y="2139.61" width="132.03" height="48.59" fill="#BF3137"/>
<rect x="290.43" y="2139.61" width="132.03" height="48.59" fill="#DC6E58"/>
<rect x="422.47" y="2139.61" width="132.03" height="48.59" fill="#DEE2E4"/>
<rect x="554.50" y="2139.61" width="132.03" height="48.59" fill="#63A7CE"/>
<rect x="686.53" y="2139.61" width="132.03" height="48.59" fill="#327CB8"/>
<rect x="818.57" y="2139.61" width="132.03" height="48.59" fill="#E7E0DC"/>
<rect x="158.40" y="2188.20" width="132.03" height="48.59" fill="#9B1127"/>
<rect x="290.43" y="2188.20" width="132.03" height="48.59" fill="#EB9072"/>
<rect x="422.47" y="2188.20" width="132.03" height="48.59" fill="#E5E0DE"/>
<rect x="554.50" y="2188.20" width="132.03" height="48.59" fill="#7EB8D7"/>
<rect x="686.53" y="2188.20" width="132.03" height="48.59" fill="#4F9AC7"/>
<rect x="818.57" y="2188.20" width="132.03" height="48.59" fill="#9BCAE1"/>
<rect x="158.40" y="2236.78" width="132.03" height="48.76" fill="#A71429"/>
<rect x="290.43" y="2236.78" width="132.03" height="48.76" fill="#E6866A"/>
<rect x="422.47" y="2236.78" width="132.03" height="48.76" fill="#E3E1E0"/>
<rect x="554.50" y="2236.78" width="132.03" height="48.76" fill="#7AB6D6"/>
<rect x="686.53" y="2236.78" width="132.03" height="48.76" fill="#63A7CE"/>
<rect x="818.57" y="2236.78" width="132.03" height="48.76" fill="#8EC2DD"/>
<rect x="158.40" y="2285.54" width="132.03" height="48.76" fill="#F19E7D"/>
<rect x="290.43" y="2285.54" width="132.03" height="48.76" fill="#F6DCCD"/>
<rect x="422.47" y="2285.54" width="132.03" height="48.76" fill="#9FCBE2"/>
<rect x="554.50" y="2285.54" width="132.03" height="48.76" fill="#9FCBE2"/>
<rect x="686.53" y="2285.54" width="132.03" height="48.76" fill="#327CB8"/>
<rect x="818.57" y="2285.54" width="132.03" height="48.76" fill="#A71429"/>
<rect x="158.40" y="2334.30" width="132.03" height="48.76" fill="#CF5246"/>
<rect x="290.43" y="2334.30" width="132.03" height="48.76" fill="#FACBB2"/>
<rect x="422.47" y="2334.30" width="132.03" height="48.76" fill="#E5E0DE"/>
<rect x="554.50" y="2334.30" width="132.03" height="48.76" fill="#1D5EA1"/>
<rect x="686.53" y="2334.30" width="132.03" height="48.76" fill="#92C5DE"/>
<rect x="818.57" y="2334.30" width="132.03" height="48.76" fill="#E6866A"/>
<rect x="158.40" y="2383.06" width="132.03" height="48.76" fill="#EBDFD7"/>
<rect x="290.43" y="2383.06" width="132.03" height="48.76" fill="#8EC2DD"/>
<rect x="422.47" y="2383.06" width="132.03" height="48.76" fill="#F7B89A"/>
<rect x="554.50" y="2383.06" width="132.03" height="48.76" fill="#D2594A"/>
<rect x="686.53" y="2383.06" width="132.03" height="48.76" fill="#195696"/>
<rect x="818.57" y="2383.06" width="132.03" height="48.76" fill="#F09B7A"/>
<rect x="158.40" y="2431.82" width="132.03" height="48.76" fill="#C4DFEC"/>
<rect x="290.43" y="2431.82" width="132.03" height="48.76" fill="#C03539"/>
<rect x="422.47" y="2431.82" width="132.03" height="48.76" fill="#E58268"/>
<rect x="554.50" y="2431.82" width="132.03" height="48.76" fill="#9BCAE1"/>
<rect x="686.53" y="2431.82" width="132.03" height="48.76" fill="#2063A8"/>
<rect x="818.57" y="2431.82" width="132.03" height="48.76" fill="#FBDCC9"/>
<rect x="158.40" y="2480.58" width="132.03" height="48.76" fill="#F4A885"/>
<rect x="290.43" y="2480.58" width="132.03" height="48.76" fill="#F5AD8C"/>
<rect x="422.47" y="2480.58" width="132.03" height="48.76" fill="#D1E5F0"/>
<rect x="554.50" y="2480.58" width="132.03" height="48.76" fill="#E58268"/>
<rect x="686.53" y="2480.58" width="132.03" height="48.76" fill="#053061"/>
<rect x="818.57" y="2480.58" width="132.03" height="48.76" fill="#EBDFD7"/>
<rect x="158.40" y="2529.34" width="132.03" height="48.76" fill="#F4A582"/>
<rect x="290.43" y="2529.34" width="132.03" height="48.76" fill="#F2A27F"/>
<rect x="422.47" y="2529.34" width="132.03" height="48.76" fill="#F4A582"/>
<rect x="554.50" y="2529.34" width="132.03" height="48.76" fill="#D3E4EE"/>
<rect x="686.53" y="2529.34" width="132.03" height="48.76" fill="#063365"/>
<rect x="818.57" y="2529.34" width="132.03" height="48.76" fill="#FBDCC9"/>
<rect x="158.40" y="2578.10" width="132.03" height="48.76" fill="#DC6E58"/>
<rect x="290.43" y="2578.10" width="132.03" height="48.76" fill="#F4A885"/>
<rect x="422.47" y="2578.10" width="132.03" height="48.76" fill="#FACBB2"/>
<rect x="554.50" y="2578.10" width="132.03" height="48.76" fill="#FACBB2"/>
<rect x="686.53" y="2578.10" width="132.03" height="48.76" fill="#063365"/>
<rect x="818.57" y="2578.10" width="132.03" height="48.76" fill="#D1E5F0"/>
</g>
<text transform="translate(960.00 907.91) scale(1.0680 1.0000)" font-size="22.20">Murideoxycholic a.</text>
<text transform="translate(960.00 956.52) scale(1.0675 1.0000)" font-size="22.20">Ursodeoxycholic a.</text>
<text transform="translate(960.00 1005.12) scale(1.0670 1.0000)" font-size="22.20">Chenodeoxycholic a</text>
<text transform="translate(960.00 1053.73) scale(1.0665 1.0000)" font-size="22.20">Cholic a.</text>
<text transform="translate(960.00 1102.34) scale(1.0659 1.0000)" font-size="22.20">Glycochenodeoxycho</text>
<text transform="translate(960.00 1150.95) scale(1.0654 1.0000)" font-size="22.20">Glycohyodeoxycholi</text>
<text transform="translate(960.00 1199.56) scale(1.0649 1.0000)" font-size="22.20">Glycocholic a.</text>
<text transform="translate(960.00 1248.16) scale(1.0644 1.0000)" font-size="22.20">Glycohyocholic a.</text>
<text transform="translate(960.00 1296.77) scale(1.0639 1.0000)" font-size="22.20">Tauro-omega-Murich</text>
<text transform="translate(960.00 1345.38) scale(1.0634 1.0000)" font-size="22.20">Taurocholic a.</text>
<text transform="translate(962.00 1392.60) scale(1.0620 1.0000)" font-size="24.40">Tauroursodeoxycholic a.</text>
<text transform="translate(962.00 1442.60) scale(1.0620 1.0000)" font-size="24.40">Taurohyodeoxycholic a.</text>
<text transform="translate(962.00 1493.10) scale(1.0620 1.0000)" font-size="24.40">Taurochenodeoxycholic a.</text>
<text transform="translate(962.00 1543.10) scale(1.0620 1.0000)" font-size="24.40">Glycoursodeoxycholic a.</text>
<text transform="translate(960.00 1588.42) scale(1.0608 1.0000)" font-size="22.20">Taurodeoxycholic a</text>
<text transform="translate(960.00 1637.03) scale(1.0603 1.0000)" font-size="22.20">Glycodeoxycholic a</text>
<text transform="translate(960.00 1685.64) scale(1.0598 1.0000)" font-size="22.20">Tauro-ɑ-Muricholic</text>
<text transform="translate(960.00 1734.25) scale(1.0593 1.0000)" font-size="22.20">Taurolithocholic a</text>
<text transform="translate(960.00 1782.85) scale(1.0587 1.0000)" font-size="22.20">Deoxycholic a.</text>
<text transform="translate(960.00 1831.46) scale(1.0582 1.0000)" font-size="22.20">Hyodeoxycholic a.</text>
<text transform="translate(960.00 1880.07) scale(1.0577 1.0000)" font-size="22.20">Glycolithocholic a</text>
<text transform="translate(960.00 1928.68) scale(1.0572 1.0000)" font-size="22.20">7-Ketolithocholic</text>
<text transform="translate(960.00 1977.29) scale(1.0567 1.0000)" font-size="22.20">Apocholic a.</text>
<text transform="translate(960.00 2025.89) scale(1.0562 1.0000)" font-size="22.20">12-Ketolithocholic</text>
<text transform="translate(960.00 2074.50) scale(1.0557 1.0000)" font-size="22.20">Allolithocholic a.</text>
<text transform="translate(960.00 2123.11) scale(1.0551 1.0000)" font-size="22.20">6-Ketolithocholic</text>
<text transform="translate(960.00 2171.72) scale(1.0546 1.0000)" font-size="22.20">Dehydrolithocholic</text>
<text transform="translate(960.00 2220.33) scale(1.0541 1.0000)" font-size="22.20">Lithocholic a.</text>
<text transform="translate(960.00 2268.94) scale(1.0536 1.0000)" font-size="22.20">6-Ketolithocholic</text>
<text transform="translate(960.00 2317.54) scale(1.0531 1.0000)" font-size="22.20">ɑ-Muricholic a.</text>
<text transform="translate(960.00 2366.15) scale(1.0526 1.0000)" font-size="22.20">Isolithocholic a.</text>
<text transform="translate(960.00 2414.76) scale(1.0521 1.0000)" font-size="22.20">ɣ-Muricholic a.</text>
<text transform="translate(960.00 2463.37) scale(1.0515 1.0000)" font-size="22.20">7-Sulfocholic a.</text>
<text transform="translate(960.00 2511.98) scale(1.0510 1.0000)" font-size="22.20">7-Dehydrocholic a.</text>
<text transform="translate(960.00 2560.58) scale(1.0505 1.0000)" font-size="22.20">3-Dehydrocholic a.</text>
<text transform="translate(960.00 2609.19) scale(1.0500 1.0000)" font-size="22.20">Ursocholic a.</text>
<defs><linearGradient id="cbB" x1="0" y1="1" x2="0" y2="0">
<stop offset="0.0000" stop-color="#053061"/>
<stop offset="0.1111" stop-color="#2166AC"/>
<stop offset="0.2222" stop-color="#4393C3"/>
<stop offset="0.3333" stop-color="#92C5DE"/>
<stop offset="0.4444" stop-color="#D1E5F0"/>
<stop offset="0.5556" stop-color="#FDDBC7"/>
<stop offset="0.6667" stop-color="#F4A582"/>
<stop offset="0.7778" stop-color="#D6604D"/>
<stop offset="0.8889" stop-color="#B2182B"/>
<stop offset="1.0000" stop-color="#67001F"/>
</linearGradient></defs>
<rect x="1197.0" y="841.2" width="29.6" height="427.8" fill="url(#cbB)"/>
<text transform="translate(1237.50 896.00)" font-size="22.50">1.5</text>
<text transform="translate(1237.50 952.00)" font-size="22.50">1</text>
<text transform="translate(1237.50 1007.80)" font-size="22.50">0.5</text>
<text transform="translate(1237.50 1063.60)" font-size="22.50">0</text>
<text transform="translate(1237.50 1119.50)" font-size="22.50">-0.5</text>
<text transform="translate(1237.50 1175.50)" font-size="22.50">-1</text>
<text transform="translate(1237.50 1231.20)" font-size="22.50">-1.5</text>
<text transform="translate(1295.4 912.3) rotate(90) scale(1 1.0000)" font-size="25.70">Normalized concentration</text>
<text transform="translate(224.6 2630.2) scale(1.045 1) rotate(-45)" font-size="31.59" text-anchor="end" dy="22.6">d -7</text>
<text transform="translate(339.4 2629.4) scale(1.045 1) rotate(-45)" font-size="31.59" text-anchor="end" dy="22.6">d 0</text>
<text transform="translate(488.8 2630.2) scale(1.045 1) rotate(-45)" font-size="31.59" text-anchor="end" dy="22.6">d +7</text>
<text transform="translate(608.0 2635.2) scale(1.045 1) rotate(-45)" font-size="31.59" text-anchor="end" dy="22.6">d +14</text>
<text transform="translate(744.2 2629.6) scale(1.045 1) rotate(-45)" font-size="31.59" text-anchor="end" dy="22.6">d +21</text>
<text transform="translate(889.4 2630.6) scale(1.045 1) rotate(-45)" font-size="31.59" text-anchor="end" dy="22.6">d +28</text>
<text transform="translate(1322.30 1445.50) scale(1.0700 1.0000)" font-size="56.00" font-weight="bold">d</text>
<text transform="translate(1600.30 1445.00)" font-size="32.50">n=234 samples</text>
<g>
<ellipse cx="1762.0" cy="1752.0" rx="44.0" ry="50.0" transform="rotate(0 1762.0 1752.0)" fill="#EDF8FB" fill-opacity="0.20"/>
<ellipse cx="1756.0" cy="1742.0" rx="57.0" ry="45.0" transform="rotate(60 1756.0 1742.0)" fill="#BFD3E6" fill-opacity="0.80"/>
<ellipse cx="1697.5" cy="1696.0" rx="52.0" ry="41.0" transform="rotate(-32 1697.5 1696.0)" fill="#8C96C6" fill-opacity="0.85"/>
<ellipse cx="1573.0" cy="1740.3" rx="64.0" ry="39.0" transform="rotate(-45 1573.0 1740.3)" fill="#8856A7" fill-opacity="0.85"/>
<ellipse cx="1638.0" cy="1739.6" rx="57.0" ry="37.5" transform="rotate(4 1638.0 1739.6)" fill="#810F7C" fill-opacity="0.90"/>
<path d="M1756.6 1757.3L1710.9 1564.7M1756.6 1757.3L1830.1 1613.5M1756.6 1757.3L1867.8 1723.5M1756.6 1757.3L1867.8 1759.3M1756.6 1757.3L1862.6 1785.1M1756.6 1757.3L1890.4 1828.8M1756.6 1757.3L1899.6 1837.5M1756.6 1757.3L1810.2 1874.5M1756.6 1757.3L1780.4 1877.7M1756.6 1757.3L1756.6 1890.4M1756.6 1757.3L1573.9 1867.7M1756.6 1757.3L1822.1 1870.5M1756.6 1757.3L1649.4 1803.0M1756.6 1757.3L1796.3 1797.0M1756.6 1757.3L1816.2 1816.9M1756.6 1757.3L1792.3 1810.9M1756.6 1757.3L1804.3 1832.8M1756.6 1757.3L1836.0 1801.0M1756.6 1757.3L1844.0 1777.2M1756.6 1757.3L1776.5 1824.8M1756.6 1757.3L1840.0 1844.7M1756.6 1757.3L1748.7 1848.7M1756.6 1757.3L1728.8 1860.6M1756.6 1757.3L1875.8 1781.1M1756.6 1757.3L1812.2 1658.0M1756.6 1757.3L1796.3 1634.2" fill="none" stroke="#EDF8FB" stroke-width="3.3" stroke-dasharray="3.3 10.1" stroke-opacity="0.50"/>
<path d="M1750.6 1751.4L1626.7 1529.3M1750.6 1751.4L1708.1 1587.7M1750.6 1751.4L1719.7 1603.6M1750.6 1751.4L1853.9 1720.8M1750.6 1751.4L1697.0 1835.9M1750.6 1751.4L1625.5 1816.9" fill="none" stroke="#BFD3E6" stroke-width="3.3" stroke-dasharray="3.3 10.1" stroke-opacity="0.80"/>
<path d="M1667.2 1740.6L1737.5 1523.8M1667.2 1740.6L1745.9 1564.7M1667.2 1740.6L1701.0 1585.3M1667.2 1740.6L1548.5 1587.7M1667.2 1740.6L1705.8 1621.1M1667.2 1740.6L1770.9 1619.5M1667.2 1740.6L1603.7 1650.1M1667.2 1740.6L1555.2 1674.7M1667.2 1740.6L1517.5 1700.9M1667.2 1740.6L1512.3 1722.0M1667.2 1740.6L1774.5 1671.9M1667.2 1740.6L1770.1 1685.8M1667.2 1740.6L1827.3 1673.1M1667.2 1740.6L1817.0 1691.8M1667.2 1740.6L1848.3 1753.3M1667.2 1740.6L1861.1 1751.4M1667.2 1740.6L1494.9 1788.3M1667.2 1740.6L1471.4 1831.6M1667.2 1740.6L1575.9 1829.6M1667.2 1740.6L1577.9 1837.5M1667.2 1740.6L1555.2 1863.8M1667.2 1740.6L1500.8 1894.7M1667.2 1740.6L1513.5 1934.8M1667.2 1740.6L1640.2 1830.4M1667.2 1740.6L1664.1 1820.5M1667.2 1740.6L1718.9 1893.1M1667.2 1740.6L1803.1 1831.2M1667.2 1740.6L1849.9 1825.6M1667.2 1740.6L1829.3 1824.8M1667.2 1740.6L1853.9 1847.9M1667.2 1740.6L1877.7 1809.7M1667.2 1740.6L1755.0 1802.2M1667.2 1740.6L1719.3 1793.1" fill="none" stroke="#9EBCDA" stroke-width="3.3" stroke-dasharray="3.3 10.1" stroke-opacity="0.88"/>
<path d="M1697.0 1697.7L1664.1 1591.3M1697.0 1697.7L1735.9 1553.6M1697.0 1697.7L1794.7 1588.1M1697.0 1697.7L1791.9 1637.4M1697.0 1697.7L1657.3 1628.2M1697.0 1697.7L1582.6 1673.9M1697.0 1697.7L1755.0 1681.1M1697.0 1697.7L1819.0 1765.6M1697.0 1697.7L1663.3 1836.7M1697.0 1697.7L1693.1 1666.0" fill="none" stroke="#8C96C6" stroke-width="3.3" stroke-dasharray="3.3 10.1" stroke-opacity="1.00"/>
<path d="M1575.9 1739.4L1644.6 1619.9M1575.9 1739.4L1610.0 1635.4M1575.9 1739.4L1556.4 1687.0M1575.9 1739.4L1482.2 1738.6M1575.9 1739.4L1448.8 1770.4M1575.9 1739.4L1477.8 1792.3M1575.9 1739.4L1531.0 1793.1M1575.9 1739.4L1566.0 1837.9M1575.9 1739.4L1603.7 1849.5M1575.9 1739.4L1470.6 1862.2M1575.9 1739.4L1623.9 1797.8M1575.9 1739.4L1692.3 1763.3" fill="none" stroke="#8856A7" stroke-width="3.3" stroke-dasharray="3.3 10.1" stroke-opacity="1.00"/>
<path d="M1637.5 1739.4L1669.2 1521.8M1637.5 1739.4L1703.4 1552.8M1637.5 1739.4L1540.9 1590.9M1637.5 1739.4L1683.1 1617.5M1637.5 1739.4L1808.6 1639.4M1637.5 1739.4L1782.0 1677.9M1637.5 1739.4L1849.5 1689.0M1637.5 1739.4L1481.0 1682.6M1637.5 1739.4L1463.5 1718.0M1637.5 1739.4L1469.1 1744.2M1637.5 1739.4L1396.4 1796.2M1637.5 1739.4L1451.2 1791.5M1637.5 1739.4L1522.3 1811.3M1637.5 1739.4L1539.0 1810.9M1637.5 1739.4L1622.8 1818.9M1637.5 1739.4L1699.0 1797.4M1637.5 1739.4L1717.3 1802.6M1637.5 1739.4L1774.5 1795.4M1637.5 1739.4L1804.3 1853.4M1637.5 1739.4L1861.1 1854.6M1637.5 1739.4L1856.7 1881.6" fill="none" stroke="#810F7C" stroke-width="3.3" stroke-dasharray="3.3 10.1" stroke-opacity="1.00"/>
<g fill="#EDF8FB" fill-opacity="0.45"><circle cx="1710.9" cy="1564.7" r="4.1"/><circle cx="1830.1" cy="1613.5" r="4.1"/><circle cx="1867.8" cy="1723.5" r="4.1"/><circle cx="1867.8" cy="1759.3" r="4.1"/><circle cx="1862.6" cy="1785.1" r="4.1"/><circle cx="1890.4" cy="1828.8" r="4.1"/><circle cx="1899.6" cy="1837.5" r="4.1"/><circle cx="1810.2" cy="1874.5" r="4.1"/><circle cx="1780.4" cy="1877.7" r="4.1"/><circle cx="1756.6" cy="1890.4" r="4.1"/><circle cx="1573.9" cy="1867.7" r="4.1"/><circle cx="1822.1" cy="1870.5" r="4.1"/><circle cx="1649.4" cy="1803.0" r="4.1"/><circle cx="1796.3" cy="1797.0" r="4.1"/><circle cx="1816.2" cy="1816.9" r="4.1"/><circle cx="1792.3" cy="1810.9" r="4.1"/><circle cx="1804.3" cy="1832.8" r="4.1"/><circle cx="1836.0" cy="1801.0" r="4.1"/><circle cx="1844.0" cy="1777.2" r="4.1"/><circle cx="1776.5" cy="1824.8" r="4.1"/><circle cx="1840.0" cy="1844.7" r="4.1"/><circle cx="1748.7" cy="1848.7" r="4.1"/><circle cx="1728.8" cy="1860.6" r="4.1"/><circle cx="1875.8" cy="1781.1" r="4.1"/><circle cx="1812.2" cy="1658.0" r="4.1"/><circle cx="1796.3" cy="1634.2" r="4.1"/></g>
<g fill="#BFD3E6" fill-opacity="0.90"><circle cx="1626.7" cy="1529.3" r="4.1"/><circle cx="1708.1" cy="1587.7" r="4.1"/><circle cx="1719.7" cy="1603.6" r="4.1"/><circle cx="1853.9" cy="1720.8" r="4.1"/><circle cx="1697.0" cy="1835.9" r="4.1"/><circle cx="1625.5" cy="1816.9" r="4.1"/></g>
<g fill="#9EBCDA" fill-opacity="1.00"><circle cx="1737.5" cy="1523.8" r="4.1"/><circle cx="1745.9" cy="1564.7" r="4.1"/><circle cx="1701.0" cy="1585.3" r="4.1"/><circle cx="1548.5" cy="1587.7" r="4.1"/><circle cx="1705.8" cy="1621.1" r="4.1"/><circle cx="1770.9" cy="1619.5" r="4.1"/><circle cx="1603.7" cy="1650.1" r="4.1"/><circle cx="1555.2" cy="1674.7" r="4.1"/><circle cx="1517.5" cy="1700.9" r="4.1"/><circle cx="1512.3" cy="1722.0" r="4.1"/><circle cx="1774.5" cy="1671.9" r="4.1"/><circle cx="1770.1" cy="1685.8" r="4.1"/><circle cx="1827.3" cy="1673.1" r="4.1"/><circle cx="1817.0" cy="1691.8" r="4.1"/><circle cx="1848.3" cy="1753.3" r="4.1"/><circle cx="1861.1" cy="1751.4" r="4.1"/><circle cx="1494.9" cy="1788.3" r="4.1"/><circle cx="1471.4" cy="1831.6" r="4.1"/><circle cx="1575.9" cy="1829.6" r="4.1"/><circle cx="1577.9" cy="1837.5" r="4.1"/><circle cx="1555.2" cy="1863.8" r="4.1"/><circle cx="1500.8" cy="1894.7" r="4.1"/><circle cx="1513.5" cy="1934.8" r="4.1"/><circle cx="1640.2" cy="1830.4" r="4.1"/><circle cx="1664.1" cy="1820.5" r="4.1"/><circle cx="1718.9" cy="1893.1" r="4.1"/><circle cx="1803.1" cy="1831.2" r="4.1"/><circle cx="1849.9" cy="1825.6" r="4.1"/><circle cx="1829.3" cy="1824.8" r="4.1"/><circle cx="1853.9" cy="1847.9" r="4.1"/><circle cx="1877.7" cy="1809.7" r="4.1"/><circle cx="1755.0" cy="1802.2" r="4.1"/><circle cx="1719.3" cy="1793.1" r="4.1"/></g>
<g fill="#8C96C6" fill-opacity="1.00"><circle cx="1664.1" cy="1591.3" r="4.1"/><circle cx="1735.9" cy="1553.6" r="4.1"/><circle cx="1794.7" cy="1588.1" r="4.1"/><circle cx="1791.9" cy="1637.4" r="4.1"/><circle cx="1657.3" cy="1628.2" r="4.1"/><circle cx="1582.6" cy="1673.9" r="4.1"/><circle cx="1755.0" cy="1681.1" r="4.1"/><circle cx="1819.0" cy="1765.6" r="4.1"/><circle cx="1663.3" cy="1836.7" r="4.1"/><circle cx="1693.1" cy="1666.0" r="4.1"/></g>
<g fill="#8856A7" fill-opacity="1.00"><circle cx="1644.6" cy="1619.9" r="4.1"/><circle cx="1610.0" cy="1635.4" r="4.1"/><circle cx="1556.4" cy="1687.0" r="4.1"/><circle cx="1482.2" cy="1738.6" r="4.1"/><circle cx="1448.8" cy="1770.4" r="4.1"/><circle cx="1477.8" cy="1792.3" r="4.1"/><circle cx="1531.0" cy="1793.1" r="4.1"/><circle cx="1566.0" cy="1837.9" r="4.1"/><circle cx="1603.7" cy="1849.5" r="4.1"/><circle cx="1470.6" cy="1862.2" r="4.1"/><circle cx="1623.9" cy="1797.8" r="4.1"/><circle cx="1692.3" cy="1763.3" r="4.1"/></g>
<g fill="#810F7C" fill-opacity="1.00"><circle cx="1669.2" cy="1521.8" r="4.1"/><circle cx="1703.4" cy="1552.8" r="4.1"/><circle cx="1540.9" cy="1590.9" r="4.1"/><circle cx="1683.1" cy="1617.5" r="4.1"/><circle cx="1808.6" cy="1639.4" r="4.1"/><circle cx="1782.0" cy="1677.9" r="4.1"/><circle cx="1849.5" cy="1689.0" r="4.1"/><circle cx="1481.0" cy="1682.6" r="4.1"/><circle cx="1463.5" cy="1718.0" r="4.1"/><circle cx="1469.1" cy="1744.2" r="4.1"/><circle cx="1396.4" cy="1796.2" r="4.1"/><circle cx="1451.2" cy="1791.5" r="4.1"/><circle cx="1522.3" cy="1811.3" r="4.1"/><circle cx="1539.0" cy="1810.9" r="4.1"/><circle cx="1622.8" cy="1818.9" r="4.1"/><circle cx="1699.0" cy="1797.4" r="4.1"/><circle cx="1717.3" cy="1802.6" r="4.1"/><circle cx="1774.5" cy="1795.4" r="4.1"/><circle cx="1804.3" cy="1853.4" r="4.1"/><circle cx="1861.1" cy="1854.6" r="4.1"/><circle cx="1856.7" cy="1881.6" r="4.1"/></g>
</g>
<path d="M1371.3 1502.5V1954.7H1930" fill="none" stroke="#000" stroke-width="3.2" stroke-linecap="square"/>
<text transform="translate(1363.10 1532.00)" font-size="25.00" text-anchor="end">10</text>
<text transform="translate(1363.10 1643.20)" font-size="25.00" text-anchor="end">5</text>
<text transform="translate(1363.10 1754.40)" font-size="25.00" text-anchor="end">0</text>
<text transform="translate(1363.10 1865.60)" font-size="25.00" text-anchor="end">-5</text>
<text transform="translate(1373.30 1985.00)" font-size="25.00" text-anchor="middle">-15</text>
<text transform="translate(1489.70 1985.00)" font-size="25.00" text-anchor="middle">-10</text>
<text transform="translate(1598.50 1985.00)" font-size="25.00" text-anchor="middle">-5</text>
<text transform="translate(1695.80 1985.00)" font-size="25.00" text-anchor="middle">0</text>
<text transform="translate(1789.20 1985.00)" font-size="25.00" text-anchor="middle">5</text>
<text transform="translate(1890.10 1985.00)" font-size="25.00" text-anchor="middle">10</text>
<path d="M1371.3 1523.0h-4.6M1371.3 1634.2h-4.6M1371.3 1745.4h-4.6M1371.3 1856.6h-4.6M1382.5 1954.7v4.6M1483.7 1954.7v4.6M1585.0 1954.7v4.6M1687.1 1954.7v4.6M1789.2 1954.7v4.6M1890.8 1954.7v4.6" stroke="#000" stroke-width="2.2" fill="none"/>
<text transform="translate(1645.80 2034.10)" font-size="31.00" font-weight="bold" text-anchor="middle">PC1</text>
<text transform="translate(1310.80 1730.60) rotate(-90) scale(1.0600 1.1500)" font-size="29.50" font-weight="bold" text-anchor="middle">PC2</text>
<text transform="translate(1594.30 2122.00)" font-size="32.40" font-weight="bold">Time-point</text>
<rect x="1594.0" y="2144.2" width="27.8" height="27.8" fill="#EDF8FB" stroke="#333" stroke-width="1.2"/>
<text transform="translate(1633.00 2165.60)" font-size="25.60">d -7</text>
<rect x="1594.0" y="2193.2" width="27.8" height="27.8" fill="#BFD3E6" stroke="#333" stroke-width="1.2"/>
<text transform="translate(1633.00 2214.60)" font-size="25.60">d 0</text>
<rect x="1594.0" y="2242.2" width="27.8" height="27.8" fill="#9EBCDA" stroke="#333" stroke-width="1.2"/>
<text transform="translate(1633.00 2263.60)" font-size="25.60">d +7</text>
<rect x="1594.0" y="2291.2" width="27.8" height="27.8" fill="#8C96C6" stroke="#333" stroke-width="1.2"/>
<text transform="translate(1633.00 2312.60)" font-size="25.60">d +14</text>
<rect x="1594.0" y="2340.2" width="27.8" height="27.8" fill="#8856A7" stroke="#333" stroke-width="1.2"/>
<text transform="translate(1633.00 2361.60)" font-size="25.60">d +21</text>
<rect x="1594.0" y="2389.2" width="27.8" height="27.8" fill="#810F7C" stroke="#333" stroke-width="1.2"/>
<text transform="translate(1633.00 2410.60)" font-size="25.60">d +28</text>
</svg>
</body></html>
